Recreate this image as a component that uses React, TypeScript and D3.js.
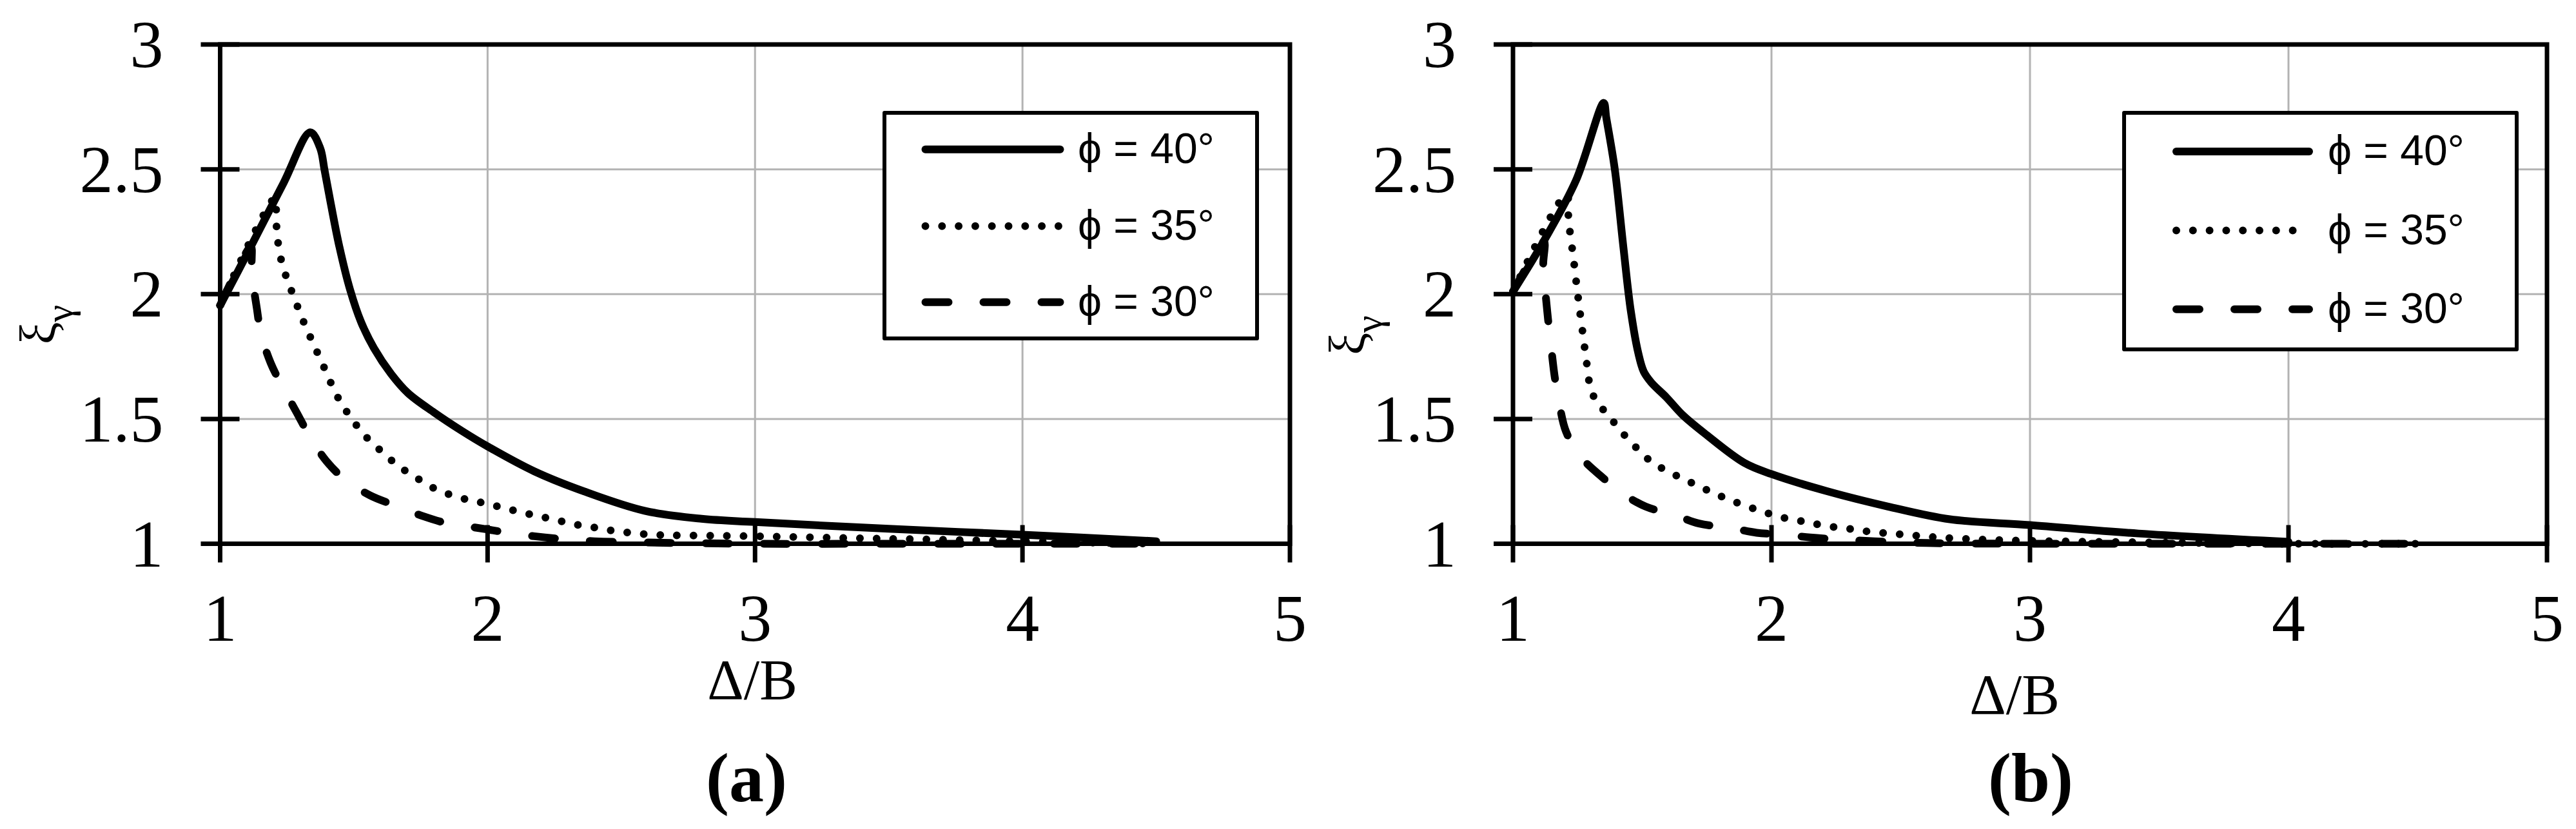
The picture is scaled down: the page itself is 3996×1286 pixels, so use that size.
import React from 'react';
import * as d3 from 'd3';

type Pt = [number, number];

const xTicks = [1, 2, 3, 4, 5];
const yTicks = [1, 1.5, 2, 2.5, 3];
const gridX = [2, 3, 4];
const gridY = [1.5, 2, 2.5];
const legendLabels = ['ϕ = 40°', 'ϕ = 35°', 'ϕ = 30°'];
const panelTags = ['(a)', '(b)'];
const xTitle = 'Δ/B';

// Panel (a)
const a40: Pt[] = [[1, 1.955], [1.117, 2.195], [1.237, 2.445], [1.337, 2.648], [1.374, 2.585], [1.39, 2.499], [1.414, 2.361], [1.446, 2.189], [1.486, 2.017], [1.527, 1.888], [1.575, 1.784], [1.639, 1.681], [1.703, 1.603], [1.8, 1.526], [1.904, 1.452], [2.0, 1.39], [2.175, 1.29], [2.36, 1.21], [2.587, 1.132], [2.8, 1.1], [3.0, 1.087], [3.5, 1.06], [4.0, 1.036], [4.5, 1.01]];
const a35: Pt[] = [[1, 1.955], [1.205, 2.385], [1.209, 2.3], [1.214, 2.232], [1.222, 2.167], [1.237, 2.103], [1.257, 2.04], [1.279, 1.98], [1.302, 1.915], [1.326, 1.855], [1.351, 1.795], [1.377, 1.734], [1.402, 1.674], [1.428, 1.612], [1.458, 1.553], [1.493, 1.5], [1.53, 1.446], [1.576, 1.397], [1.622, 1.352], [1.668, 1.31], [1.722, 1.273], [1.775, 1.236], [1.829, 1.209], [1.891, 1.186], [1.949, 1.171], [2.009, 1.158], [2.067, 1.141], [2.129, 1.126], [2.19, 1.11], [2.252, 1.097], [2.313, 1.08], [2.375, 1.07], [2.436, 1.058], [2.498, 1.048], [2.559, 1.041], [2.62, 1.036], [3.0, 1.03], [3.5, 1.02], [4.0, 1.01], [4.5, 1.0]];
const a30: Pt[] = [[1, 1.955], [1.115, 2.19], [1.118, 2.12], [1.124, 2.04], [1.137, 1.944], [1.153, 1.84], [1.189, 1.724], [1.233, 1.629], [1.286, 1.526], [1.337, 1.426], [1.399, 1.329], [1.468, 1.256], [1.56, 1.194], [1.653, 1.154], [1.76, 1.11], [1.852, 1.081], [1.96, 1.064], [2.06, 1.047], [2.175, 1.03], [2.275, 1.019], [2.4, 1.01], [2.6, 1.005], [3.0, 1.0], [3.5, 1.0], [4.0, 1.0], [4.5, 1.0]];

// Panel (b)
const b40: Pt[] = [[1, 2.01], [1.12, 2.214], [1.244, 2.456], [1.351, 2.766], [1.361, 2.706], [1.394, 2.499], [1.427, 2.189], [1.456, 1.931], [1.486, 1.758], [1.506, 1.689], [1.535, 1.646], [1.594, 1.586], [1.656, 1.516], [1.75, 1.435], [1.895, 1.324], [2.0, 1.279], [2.213, 1.211], [2.451, 1.149], [2.69, 1.098], [3.0, 1.075], [3.42, 1.041], [4.0, 1.008]];
const b35: Pt[] = [[1, 2.01], [1.207, 2.4], [1.215, 2.29], [1.224, 2.224], [1.232, 2.157], [1.24, 2.093], [1.247, 2.028], [1.255, 1.963], [1.263, 1.896], [1.272, 1.829], [1.28, 1.763], [1.289, 1.696], [1.298, 1.632], [1.322, 1.571], [1.364, 1.52], [1.404, 1.469], [1.446, 1.418], [1.493, 1.369], [1.54, 1.324], [1.596, 1.292], [1.653, 1.262], [1.712, 1.234], [1.771, 1.205], [1.828, 1.18], [1.887, 1.157], [1.95, 1.134], [2.009, 1.115], [2.073, 1.098], [2.138, 1.087], [2.197, 1.074], [2.266, 1.064], [2.328, 1.056], [2.39, 1.047], [2.456, 1.041], [2.52, 1.036], [2.584, 1.03], [2.65, 1.025], [2.78, 1.018], [3.0, 1.012], [3.5, 1.005], [4.0, 1.0], [4.5, 1.0]];
const b30: Pt[] = [[1, 2.01], [1.12, 2.21], [1.117, 2.12], [1.122, 2.04], [1.126, 2.0], [1.136, 1.896], [1.149, 1.775], [1.161, 1.672], [1.18, 1.556], [1.205, 1.45], [1.259, 1.352], [1.338, 1.273], [1.426, 1.2], [1.513, 1.149], [1.625, 1.115], [1.72, 1.081], [1.839, 1.064], [1.943, 1.044], [2.054, 1.036], [2.15, 1.025], [2.25, 1.018], [2.4, 1.01], [2.6, 1.003], [3.0, 1.0], [3.5, 1.0], [4.0, 1.0], [4.5, 1.0]];

const seriesStyles = [
  { dash: undefined as string | undefined },
  { dash: '0 25.8' },
  { dash: '36 54' },
];

const SERIF = '"Liberation Serif", "Times New Roman", serif';
const SANS = '"Liberation Sans", Arial, "DejaVu Sans", sans-serif';

type Layout = {
  xRange: [number, number];
  yRange: [number, number];
  box: { x: number; y: number; w: number; h: number };
  rows: number[];
  sample: [number, number];
  textX: number;
  yLab: { x: number; y: number };
  xLab: { x: number; y: number };
  tag: { x: number; y: number };
};

const layoutA: Layout = {
  xRange: [341.5, 2001],
  yRange: [843.5, 69],
  box: { x: 1372, y: 175, w: 578, h: 350 },
  rows: [231.8, 350.8, 468.8],
  sample: [1435.5, 1644.5],
  textX: 1672,
  yLab: { x: 85, y: 503.5 },
  xLab: { x: 1167, y: 1084 },
  tag: { x: 1158, y: 1243 },
};
const layoutB: Layout = {
  xRange: [2347, 3951],
  yRange: [843.5, 69],
  box: { x: 3295, y: 175, w: 609, h: 367 },
  rows: [235, 357.6, 479.7],
  sample: [3376, 3582],
  textX: 3611,
  yLab: { x: 2116, y: 520 },
  xLab: { x: 3125, y: 1107 },
  tag: { x: 3150, y: 1243 },
};

function Panel({ L, series, tag }: { L: Layout; series: Pt[][]; tag: string }) {
  const xs = d3.scaleLinear().domain([1, 5]).range(L.xRange);
  const ys = d3.scaleLinear().domain([1, 3]).range(L.yRange);
  const line = d3
    .line<Pt>()
    .x((d) => xs(d[0]))
    .y((d) => ys(d[1]))
    .curve(d3.curveCatmullRom.alpha(0.5));
  const X0 = xs(1), X1 = xs(5), Y0 = ys(1), Y1 = ys(3);
  return (
    <g>
      {gridX.map((g) => (
        <line key={'gx' + g} x1={xs(g)} x2={xs(g)} y1={Y1} y2={Y0} stroke="#b3b3b3" strokeWidth={3} />
      ))}
      {gridY.map((g) => (
        <line key={'gy' + g} x1={X0} x2={X1} y1={ys(g)} y2={ys(g)} stroke="#b3b3b3" strokeWidth={3} />
      ))}
      <rect x={X0} y={Y1} width={X1 - X0} height={Y0 - Y1} fill="none" stroke="#000" strokeWidth={7} />
      {yTicks.map((t) => (
        <line key={'ty' + t} x1={X0 - 30} x2={X0 + 30} y1={ys(t)} y2={ys(t)} stroke="#000" strokeWidth={7} />
      ))}
      {xTicks.map((t) => (
        <line key={'tx' + t} x1={xs(t)} x2={xs(t)} y1={Y0 - 29} y2={Y0 + 29} stroke="#000" strokeWidth={7} />
      ))}
      {series.map((s, i) => (
        <path
          key={'s' + i}
          d={line(s) || ''}
          fill="none"
          stroke="#000"
          strokeWidth={12}
          strokeLinecap="round"
          strokeLinejoin="round"
          strokeDasharray={seriesStyles[i].dash}
        />
      ))}
      {yTicks.map((t) => (
        <text key={'ly' + t} x={X0 - 88} y={ys(t) + 35} textAnchor="end" fontFamily={SERIF} fontSize={104}>
          {String(t)}
        </text>
      ))}
      {xTicks.map((t) => (
        <text key={'lx' + t} x={xs(t)} y={994} textAnchor="middle" fontFamily={SERIF} fontSize={104}>
          {String(t)}
        </text>
      ))}
      <text transform={`translate(${L.yLab.x},${L.yLab.y}) rotate(-90)`} textAnchor="middle" fontFamily={SERIF} fontSize={78}>
        ξ<tspan fontSize={60} dy={27}>γ</tspan>
      </text>
      <text x={L.xLab.x} y={L.xLab.y} textAnchor="middle" fontFamily={SERIF} fontSize={88}>
        {xTitle}
      </text>
      <text x={L.tag.x} y={L.tag.y} textAnchor="middle" fontFamily={SERIF} fontSize={108} fontWeight="bold">
        {tag}
      </text>
      <rect x={L.box.x} y={L.box.y} width={L.box.w} height={L.box.h} fill="#fff" stroke="#000" strokeWidth={6} strokeLinejoin="round" />
      {legendLabels.map((lab, i) => (
        <g key={'lg' + i}>
          <line
            x1={L.sample[0]}
            x2={L.sample[1]}
            y1={L.rows[i]}
            y2={L.rows[i]}
            stroke="#000"
            strokeWidth={12}
            strokeLinecap="round"
            strokeDasharray={seriesStyles[i].dash}
          />
          <text x={L.textX} y={L.rows[i] + 21} fontFamily={SANS} fontSize={66}>
            {lab}
          </text>
        </g>
      ))}
    </g>
  );
}

export default function App() {
  return (
    <svg
      width={3996}
      height={1286}
      viewBox="0 0 3996 1286"
      style={{ position: 'absolute', left: 0, top: 0, display: 'block', background: '#fff' }}
    >
      <rect x={0} y={0} width={3996} height={1286} fill="#fff" />
      <Panel L={layoutA} series={[a40, a35, a30]} tag={panelTags[0]} />
      <Panel L={layoutB} series={[b40, b35, b30]} tag={panelTags[1]} />
    </svg>
  );
}
